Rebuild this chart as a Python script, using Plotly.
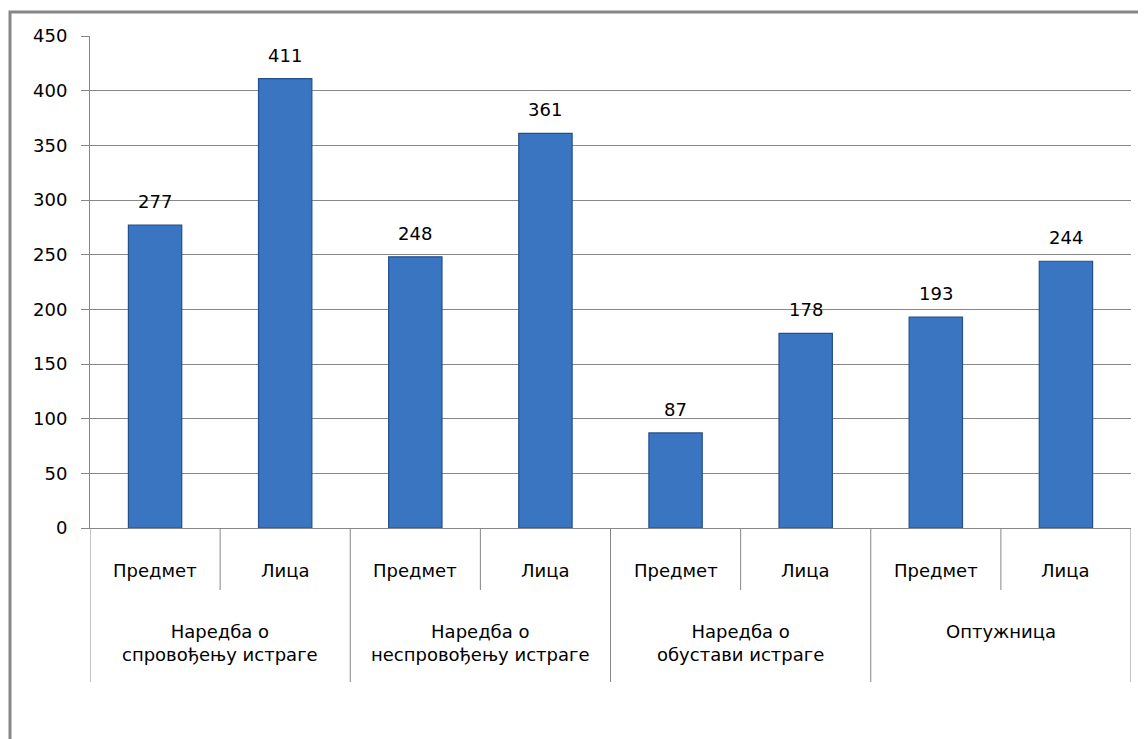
import plotly.graph_objects as go

groups = ["Наредба о<br>спровођењу истраге", "Наредба о<br>неспровођењу истраге",
          "Наредба о<br>обустави истраге", "Оптужница"]
subcats = ["Предмет", "Лица"]
values = [277, 411, 248, 361, 87, 178, 193, 244]
y_ticks = list(range(0, 451, 50))

n_sub = len(subcats)
xs = list(range(len(values)))
sub_labels = [s for _ in groups for s in subcats]

FONT = "DejaVu Sans, sans-serif"
GRAY = "#878787"
W, H = 1146, 739
OFF = 8  # page body margin offset of the figure in the browser

# plot-area geometry in screen pixels
PLOT_TOP, PLOT_BOTTOM, PLOT_LEFT, PLOT_RIGHT = 36, 528, 90, 1131
PH = PLOT_BOTTOM - PLOT_TOP
PW = PLOT_RIGHT - PLOT_LEFT


def py(pix):
    return (PLOT_BOTTOM - pix) / PH


def px(pix):
    return (pix - PLOT_LEFT) / PW


fig = go.Figure(go.Bar(
    x=xs,
    y=values,
    width=0.41,
    marker=dict(color="#3a75c2", line=dict(color="#244f8c", width=1.2)),
    hoverinfo="y",
))

annotations = []
for x, v in zip(xs, values):
    annotations.append(dict(x=x, y=v, xref="x", yref="y", text=str(v), showarrow=False,
                            yanchor="bottom", yshift=11,
                            font=dict(family=FONT, size=18, color="#000")))
for x, s in zip(xs, sub_labels):
    annotations.append(dict(x=x, y=py(570), xref="x", yref="paper", text=s, showarrow=False,
                            yanchor="middle", font=dict(family=FONT, size=18, color="#000")))
for gi, g in enumerate(groups):
    cx = gi * n_sub + (n_sub - 1) / 2
    annotations.append(dict(x=cx, y=py(619), xref="x", yref="paper", text=g, showarrow=False,
                            yanchor="top", font=dict(family=FONT, size=18, color="#000")))

shapes = []
for i in range(len(values) + 1):
    xb = i - 0.5
    long = (i % n_sub == 0)
    shapes.append(dict(type="line", xref="x", yref="paper", x0=xb, x1=xb,
                       y0=py(PLOT_BOTTOM), y1=py(682 if long else 590),
                       line=dict(color=GRAY, width=1)))
shapes.append(dict(type="rect", xref="paper", yref="paper",
                   x0=px(10), x1=px(1300), y0=py(900), y1=py(12),
                   line=dict(color=GRAY, width=3), fillcolor="rgba(0,0,0,0)", layer="below"))

fig.update_layout(
    width=W, height=H,
    margin=dict(l=PLOT_LEFT - OFF, r=W - (PLOT_RIGHT - OFF), t=PLOT_TOP - OFF,
                b=H - (PLOT_BOTTOM - OFF), autoexpand=False),
    paper_bgcolor="white", plot_bgcolor="white",
    showlegend=False,
    font=dict(family=FONT, size=18, color="#000"),
    xaxis=dict(range=[-0.5, len(values) - 0.5], showticklabels=False, showgrid=False,
               zeroline=False, showline=True, linecolor=GRAY, linewidth=1, ticks=""),
    yaxis=dict(range=[0, 450], tickvals=y_ticks, showgrid=True, gridcolor=GRAY, gridwidth=1,
               showline=True, linecolor=GRAY, linewidth=1,
               ticks="outside", ticklen=8, tickcolor=GRAY, ticklabelstandoff=10,
               tickfont=dict(family=FONT, size=18, color="#000"), zeroline=False),
    annotations=annotations,
    shapes=shapes,
)

fig.write_html("out.html")
